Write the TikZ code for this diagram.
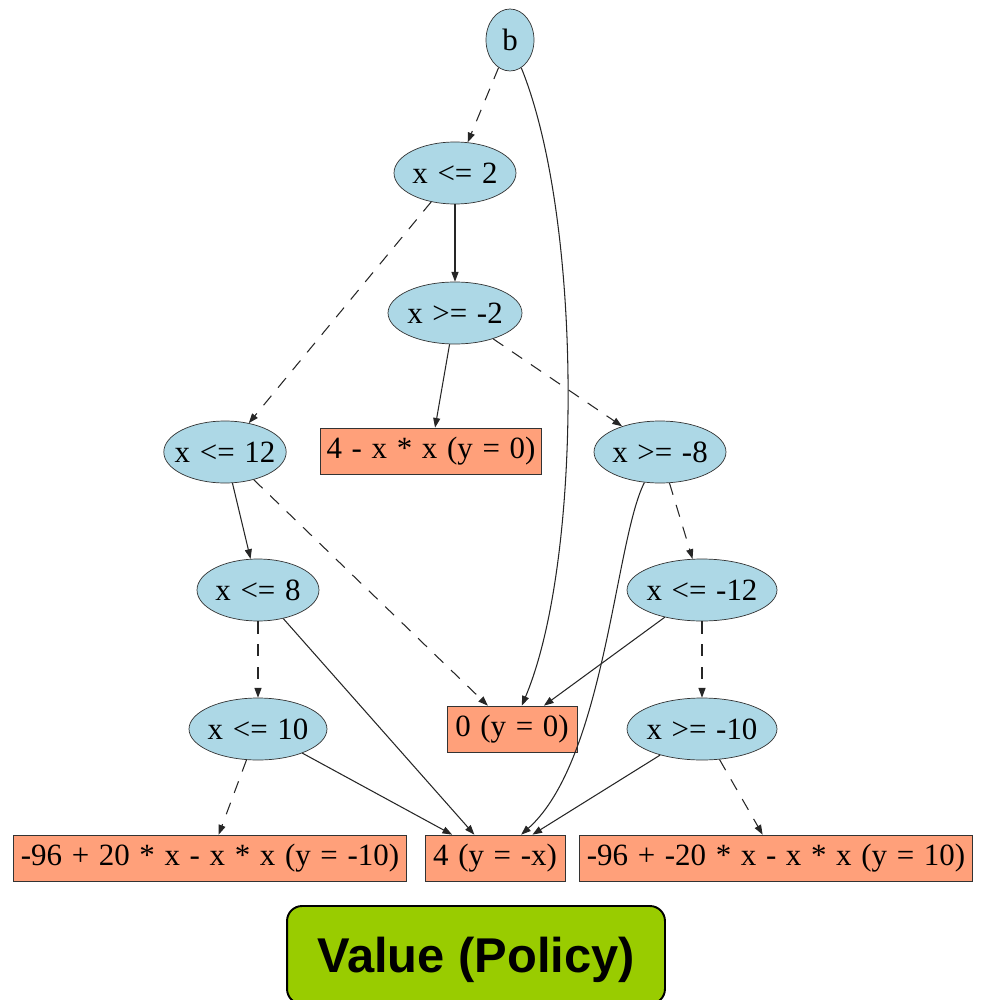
\documentclass[tikz,border=0pt]{standalone}
\usepackage{fontspec}
\setmainfont{Liberation Serif}[WordSpace=1.25]
\newfontfamily\valuefont{Liberation Sans}
\usetikzlibrary{shapes.geometric, arrows.meta}
\definecolor{testblue}{HTML}{ADD8E6}
\definecolor{leafsalmon}{HTML}{FFA07A}
\definecolor{valuegreen}{HTML}{99CC00}

\begin{document}
\begin{tikzpicture}[
            x=0.02cm, y=-0.02cm,
            font=\fontsize{17.6}{20}\selectfont,
            test/.style={ellipse, draw=black!80, fill=testblue, inner xsep=-4pt, inner ysep=0pt, minimum height=1.24cm},
            leaf/.style={rectangle, draw=black!80, fill=leafsalmon, inner sep=0pt, minimum height=0.92cm},
            value/.style={rectangle, rounded corners=0.3cm, draw=black, line width=1.1pt, fill=valuegreen,
                          minimum width=7.56cm, minimum height=1.96cm, text depth=0pt,
                          font=\valuefont\bfseries\fontsize{27.8}{30}\selectfont},
            hi/.style={draw=black!85, line width=0.6pt, -{Triangle[length=5.5pt,width=4pt]}},
            lo/.style={hi, dash pattern=on 7pt off 6pt}
            ]
        \useasboundingbox (0,0) rectangle (980,1000);

        % decision nodes
        \node[test, minimum width=0.96cm] (b) at (510,40) {b};
        \node[test, minimum width=2.44cm] (le2) at (455,173) {x <= 2};
        \node[test, minimum width=2.68cm] (gem2) at (455,313) {x >= -2};
        \node[test, minimum width=2.36cm] (le12) at (225,452) {x <= 12};
        \node[test, minimum width=2.64cm] (gem8) at (660,452) {x >= -8};
        \node[test, minimum width=2.44cm] (le8) at (258,590) {x <= 8};
        \node[test, minimum width=3.0cm] (lem12) at (702,590) {x <= -12};
        \node[test, minimum width=2.76cm] (le10) at (258,729) {x <= 10};
        \node[test, minimum width=3.0cm] (gem10) at (702,729) {x >= -10};

        % leaves
        \node[leaf, minimum width=4.42cm] (sq) at (431,451) {4 - x * x (y = 0)};
        \node[leaf, minimum width=2.6cm] (zero) at (512,729) {0 (y = 0)};
        \node[leaf, minimum width=7.86cm] (lft) at (210,858) {-96 + 20 * x - x * x (y = -10)};
        \node[leaf, minimum width=2.8cm] (mid) at (495,858) {4 (y = -x)};
        \node[leaf, minimum width=7.86cm] (rgt) at (776,858) {-96 + -20 * x - x * x (y = 10)};

        \node[value] (val) at (476,955) {Value (Policy)};

        % edges
        \draw[lo] (b) -- (le2);
        \draw[hi] (b) .. controls (583,220) and (583,560) .. (zero);
        \draw[hi] (le2) -- (gem2);
        \draw[lo] (le2) -- (le12);
        \draw[hi] (gem2) -- (sq);
        \draw[lo] (gem2) -- (gem8);
        \draw[hi] (le12) -- (le8);
        \draw[lo] (le12) -- (zero);
        \draw[hi] (gem8) .. controls (615,540) and (605,760) .. (mid);
        \draw[lo] (gem8) -- (lem12);
        \draw[lo] (le8) -- (le10);
        \draw[hi] (le8) -- (mid);
        \draw[hi] (lem12) -- (zero);
        \draw[lo] (lem12) -- (gem10);
        \draw[lo] (le10) -- (lft);
        \draw[hi] (le10) -- (mid);
        \draw[hi] (gem10) -- (mid);
        \draw[lo] (gem10) -- (rgt);
        \end{tikzpicture}
\end{document}
